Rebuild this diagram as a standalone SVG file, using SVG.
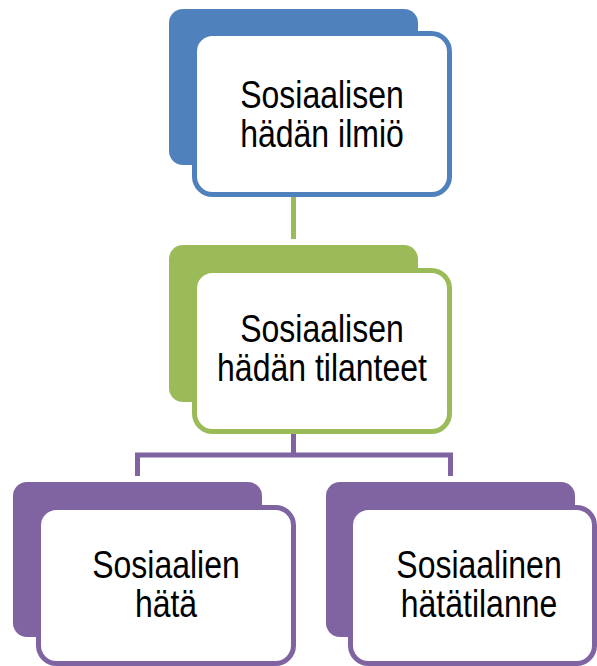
<svg xmlns="http://www.w3.org/2000/svg" width="597" height="666" viewBox="0 0 597 666">
<style>
.front{fill:#FFFFFF;stroke-width:5}
.t{font-family:"Liberation Sans",Arial,sans-serif;font-size:32px;fill:#000000;text-anchor:middle}
.conn{fill:none;stroke-width:5;stroke-linejoin:miter;stroke-linecap:butt}
</style>
<rect width="597" height="666" fill="#FFFFFF"/>
<g id="connectors">
  <path class="conn" stroke="#9BBB59" d="M293.5,196 V239"/>
  <path class="conn" stroke="#8064A2" d="M293.5,433 V455 M137.5,476 V455 H450.5 V476"/>
</g>
<g id="node-ilmio">
  <rect x="169" y="9" width="249" height="156" rx="14" fill="#4F81BD"/>
  <rect class="front" x="194.5" y="33.5" width="255" height="161" rx="18" stroke="#4F81BD"/>
  <text class="t" transform="matrix(1,0,0,1.2,322,108)"><tspan x="0" y="0">Sosiaalisen</tspan><tspan x="0" y="32.5">hädän ilmiö</tspan></text>
</g>
<g id="node-tilanteet">
  <rect x="169" y="245" width="249" height="157" rx="14" fill="#9BBB59"/>
  <rect class="front" x="194.5" y="270.5" width="255" height="161" rx="18" stroke="#9BBB59"/>
  <text class="t" transform="matrix(1,0,0,1.2,322,342)"><tspan x="0" y="0">Sosiaalisen</tspan><tspan x="0" y="32.5">hädän tilanteet</tspan></text>
</g>
<g id="node-hata">
  <rect x="13" y="482" width="249" height="155" rx="14" fill="#8064A2"/>
  <rect class="front" x="38.5" y="507.5" width="255" height="156" rx="18" stroke="#8064A2"/>
  <text class="t" transform="matrix(1,0,0,1.2,166,578)"><tspan x="0" y="0">Sosiaalien</tspan><tspan x="0" y="32.5">hätä</tspan></text>
</g>
<g id="node-hatatilanne">
  <rect x="326" y="482" width="249" height="155" rx="14" fill="#8064A2"/>
  <rect class="front" x="350.5" y="507.5" width="244" height="156" rx="18" stroke="#8064A2"/>
  <text class="t" transform="matrix(1,0,0,1.2,479,578)"><tspan x="0" y="0">Sosiaalinen</tspan><tspan x="0" y="32.5">hätätilanne</tspan></text>
</g>
</svg>
